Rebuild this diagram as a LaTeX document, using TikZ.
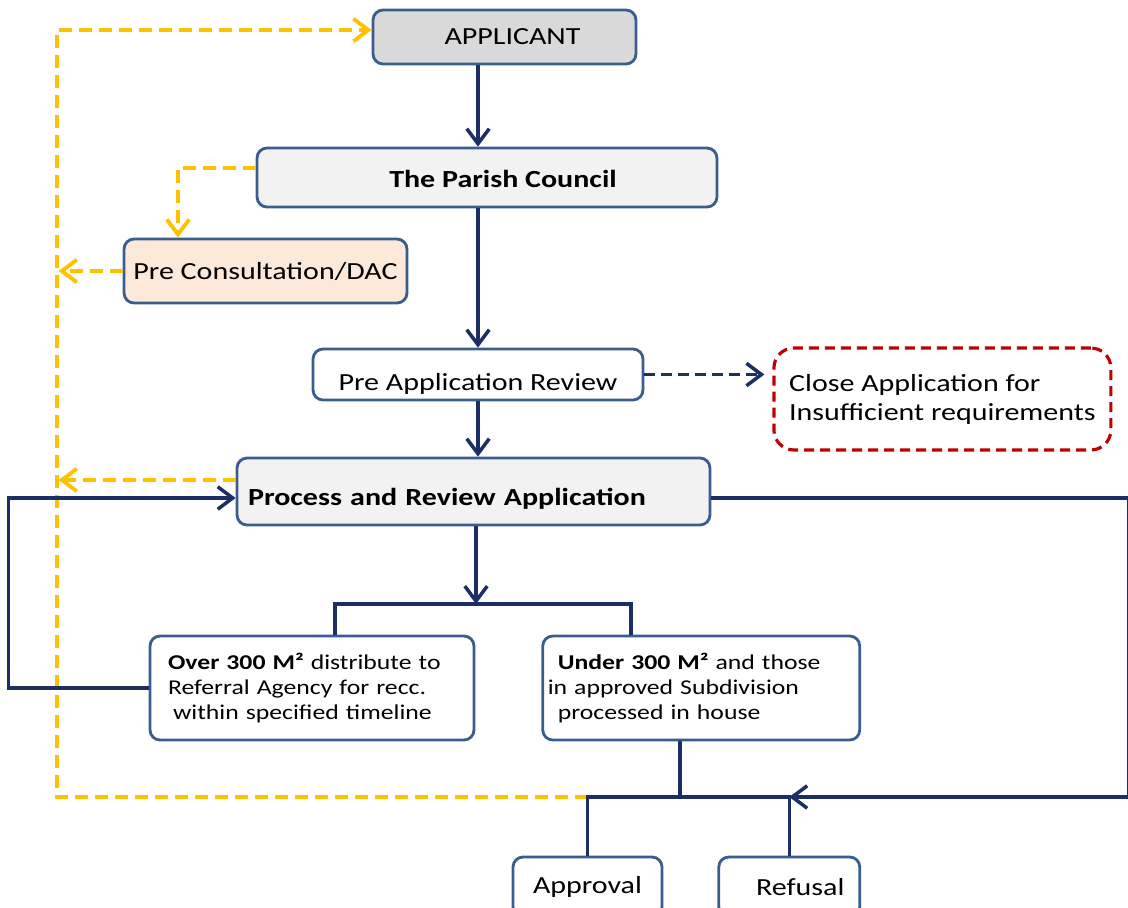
\documentclass[tikz,border=0pt]{standalone}
\usepackage{fontspec}
\setmainfont{Carlito}[FakeStretch=1.22]
\usetikzlibrary{shapes,arrows.meta,positioning}
\definecolor{flowblue}{HTML}{1B2F66}
\definecolor{boxline}{HTML}{3A5D8F}
\definecolor{consorange}{HTML}{FFC000}
\definecolor{closered}{HTML}{C00000}
\definecolor{greyfill}{HTML}{D9D9D9}
\definecolor{lightfill}{HTML}{F2F2F2}
\definecolor{peachfill}{HTML}{FCE9DA}
\tikzstyle{block} = [rectangle, draw=boxline, line width=1.6pt, fill=white, text centered, rounded corners=0.2cm, inner sep=0pt, font=\fontsize{14}{17}\selectfont]
\tikzstyle{smallblock} = [block, align=left, minimum height=2.08cm, font=\fontsize{12}{14.5}\selectfont]
\tikzstyle{line} = [draw, flowblue, line width=2pt, -{Straight Barb[length=0.3cm, width=0.45cm]}]
\tikzstyle{conn} = [draw, flowblue, line width=2pt]
\tikzstyle{feedback} = [draw, consorange, line width=2.2pt, dash pattern=on 0.26cm off 0.14cm, -{Straight Barb[length=0.3cm, width=0.45cm]}]

\begin{document}
\begin{tikzpicture}[x=0.02cm, y=-0.02cm]
    \useasboundingbox (0,0) rectangle (1128,907);
    % Place nodes
    \node [block, fill=greyfill, minimum width=5.26cm, minimum height=1.08cm] (applicant) at (504.5,37) {\hspace*{0.32cm}APPLICANT};
    \node [block, fill=lightfill, minimum width=9.2cm, minimum height=1.18cm, text height=0.45cm, text depth=0.04cm, font=\fontsize{14}{17}\selectfont\bfseries] (parish) at (487,177.5) {\hspace*{0.64cm}The Parish Council};
    \node [block, fill=peachfill, minimum width=5.66cm, minimum height=1.28cm] (precons) at (265.5,271) {Pre Consultation/DAC};
    \node [block, minimum width=6.6cm, minimum height=1.02cm, text height=0.7cm, text depth=0.05cm] (prereview) at (478,374.5) {Pre Application Review};
    \node [block, draw=closered, line width=1.8pt, dash pattern=on 0.2cm off 0.12cm, rounded corners=0.4cm, align=left, minimum width=6.74cm, minimum height=2.04cm, font=\fontsize{14}{16.5}\selectfont, right=2.56cm of prereview, yshift=-0.49cm] (close) {Close Application for\\Insufficient requirements};
    \node [block, fill=lightfill, align=left, text width=9.02cm, inner xsep=0.22cm, minimum height=1.34cm, text height=0.62cm, text depth=0.05cm, font=\fontsize{14}{17}\selectfont\bfseries] (process) at (473.5,491.5) {Process and Review Application};
    \node [smallblock, text width=5.76cm, inner xsep=0.36cm] (over) at (312,688) {\textbf{Over 300 M²} distribute to\\Referral Agency for recc.\\\hspace*{0.1cm}within specified timeline};
    \node [smallblock, text width=6.14cm, inner xsep=0.1cm, right=1.32cm of over] (under) {\hspace*{0.2cm}\textbf{Under 300 M²} and those\\in approved Subdivision\\\hspace*{0.2cm}processed in house};
    \node [block, minimum width=2.98cm, minimum height=1.2cm] (approval) at (587.5,887) {Approval};
    \node [block, minimum width=2.82cm, minimum height=1.2cm, right=1.08cm of approval] (refusal) {\hspace*{0.44cm}Refusal};

    % Draw edges
    \coordinate (split) at (476,604);
    \coordinate (join) at (680,797);
    \coordinate (rail) at (57,797);

    \path [feedback] (approval.north |- join) -- (rail) |- ([yshift=0.14cm]applicant.west);
    \path [feedback] ([yshift=0.19cm]parish.west) -| ([xshift=-1.75cm]precons.north);
    \path [feedback] (precons.west) -- ++(-64,0);
    \path [feedback] ([yshift=0.23cm]process.west) -- ++(-177,0);

    \path [line] (applicant.south -| prereview) -- (parish.north -| prereview);
    \path [line] (parish.south -| prereview) -- (prereview.north);
    \path [line] (prereview.south) -- (process.north -| prereview);
    \path [line] (process.south -| split) -- (split);
    \path [conn] ([xshift=0.46cm]over.north) |- (split) -| ([xshift=-1.41cm]under.north);
    \path [line] (over.west) -- ++(-140,0) |- ([yshift=-0.13cm]process.west);
    \path [line] ([yshift=-0.13cm]process.east) -- ++(417,0) |- (refusal.north |- join);
    \path [conn] (under.south -| join) -- (join);
    \path [conn] (approval.north) |- (join) -| (refusal.north);
    \path [line, dash pattern=on 0.22cm off 0.12cm, shorten >=0.16cm] (prereview.east) -- (close.west |- prereview.east);
\end{tikzpicture}
\end{document}
